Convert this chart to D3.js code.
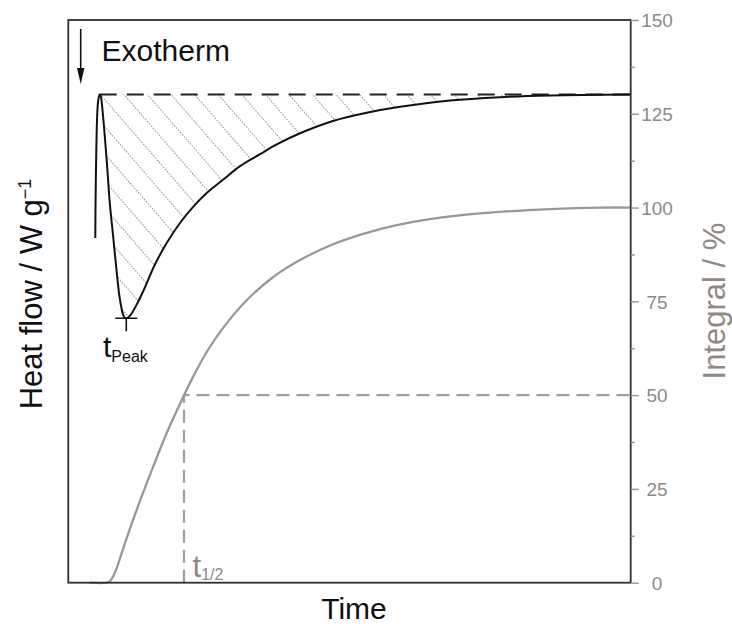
<!DOCTYPE html>
<html>
<head>
<meta charset="utf-8">
<script src="https://cdn.jsdelivr.net/npm/d3@7/dist/d3.min.js"></script>
<style>
  html, body { margin: 0; padding: 0; background: #fff; }
  svg { display: block; font-family: "Liberation Sans", Arial, Helvetica, sans-serif; }
</style>
</head>
<body>
<svg id="chart" width="732" height="626"></svg>
<script>
// ---- data ----
const hfTime = [4.80, 4.85, 4.98, 5.14, 5.33, 5.58, 5.81, 5.99, 6.47, 6.93, 7.36, 7.95, 8.53, 9.14, 9.73, 9.99, 10.31,
  10.70, 11.20, 12.39, 13.58, 15.36, 17.50, 19.86, 22.23, 24.61, 27.56, 30.53, 34.09, 37.06, 41.20, 47.07, 53.06,
  58.98, 67.87, 76.76, 85.66, 100];
const heatFlow = [-1.925, -1.415, -0.744, -0.275, -0.073, 0.0, -0.033, -0.140, -0.543, -0.986, -1.442, -1.885,
  -2.327, -2.730, -2.950, -2.990, -3.002, -2.988, -2.945, -2.784, -2.596, -2.287, -1.992, -1.724, -1.505, -1.321, -1.140,
  -0.960, -0.800, -0.670, -0.520, -0.355, -0.245, -0.165, -0.080, -0.035, -0.012, 0.0];
const intTime = [3.86, 6.88, 7.42, 8.00, 8.61, 9.50, 10.38, 12.75, 15.06, 17.50, 20.45, 22.23, 24.61, 27.56,
  31.72, 36.45, 41.20, 46.54, 52.46, 58.40, 64.32, 73.74, 85.66, 95.00, 100];
const integral = [0, 0, 0.4, 1.8, 3.9, 7.9, 11.9, 21.8, 30.8, 39.9, 49.6, 55.0, 61.5, 68.0, 75.3, 81.5, 86.0,
  89.9, 93.0, 95.3, 96.9, 98.5, 99.6, 100, 100];
const rightTicks = [0, 25, 50, 75, 100, 125, 150];
const rightMinorTicks = [12.5, 37.5, 62.5, 87.5, 112.5, 137.5];
const peakStartIndex = 5;      // baseline touch (start of hatched area)
const tPeak = 10.31, hfMin = -3.002;
const tHalf = 20.57, halfValue = 50;

// ---- layout ----
const L = 68.3, R = 630.7, T = 20, B = 582.7;
const svg = d3.select("#chart");
const x = d3.scaleLinear().domain([0, 100]).range([L, R]);
const yHF = d3.scaleLinear().domain([-6.55, 1.0]).range([B, T]);
const yInt = d3.scaleLinear().domain([0, 150]).range([B, T]);

const grey = "#9d9793";
const curve = d3.curveCatmullRom.alpha(0.5);
const hf = hfTime.map((t, i) => ({t, v: heatFlow[i]}));
const it = intTime.map((t, i) => ({t, v: integral[i]}));

// hatch pattern
const defs = svg.append("defs");
const pat = defs.append("pattern")
  .attr("id", "hatch").attr("patternUnits", "userSpaceOnUse")
  .attr("width", 17.8).attr("height", 21)
  .attr("patternTransform", `translate(${x(hfTime[peakStartIndex])},${yHF(0)}) rotate(-41)`);
pat.append("line").attr("x1", 0.5).attr("y1", 0).attr("x2", 0.5).attr("y2", 21)
  .attr("stroke", "#858585").attr("stroke-width", 1).attr("stroke-dasharray", "1.4 1.6");

const hatchData = hf.slice(peakStartIndex);
const area = d3.area().x(d => x(d.t)).y0(yHF(0)).y1(d => yHF(d.v)).curve(curve);
svg.append("path").attr("d", area(hatchData)).attr("fill", "url(#hatch)");

// baseline dashed
svg.append("line")
  .attr("x1", x(hfTime[peakStartIndex])).attr("x2", x(100))
  .attr("y1", yHF(0)).attr("y2", yHF(0))
  .attr("stroke", "#222").attr("stroke-width", 2).attr("stroke-dasharray", "17 10");

// t1/2 dashed guides
svg.append("path")
  .attr("d", `M${x(tHalf)},${yInt(0)}V${yInt(halfValue)}H${x(100)}`)
  .attr("fill", "none").attr("stroke", "#a39d99").attr("stroke-width", 2.2).attr("stroke-dasharray", "13 7");

// integral curve
const line = d3.line().x(d => x(d.t)).y(d => yInt(d.v)).curve(curve);
svg.append("path").attr("d", line(it)).attr("fill", "none").attr("stroke", grey).attr("stroke-width", 2.3);

// heat flow curve
const lineHF = d3.line().x(d => x(d.t)).y(d => yHF(d.v)).curve(curve);
svg.append("path").attr("d", lineHF(hf)).attr("fill", "none").attr("stroke", "#111").attr("stroke-width", 2);

// tPeak marker
svg.append("path")
  .attr("d", `M${x(tPeak) - 11},${yHF(hfMin)}H${x(tPeak) + 11}M${x(tPeak)},${yHF(hfMin)}v13`)
  .attr("stroke", "#111").attr("stroke-width", 1.6).attr("fill", "none");

// frame
svg.append("rect").attr("x", L).attr("y", T).attr("width", R - L).attr("height", B - T)
  .attr("fill", "none").attr("stroke", "#2e2e2e").attr("stroke-width", 1.8);

// right axis
const axR = svg.append("g").attr("transform", `translate(${R},0)`)
  .call(d3.axisRight(yInt).tickValues(rightTicks).tickSize(8).tickPadding(0));
axR.select(".domain").remove();
axR.selectAll("line").attr("stroke", grey).attr("stroke-width", 1.5);
axR.selectAll("text").attr("x", 26.3).attr("text-anchor", "middle").attr("dy", "0.35em")
  .attr("fill", "#8f8985").style("font-size", "19px").style("font-family", "'Liberation Sans', Arial, sans-serif");
const axRm = svg.append("g").attr("transform", `translate(${R},0)`)
  .call(d3.axisRight(yInt).tickValues(rightMinorTicks).tickSize(4).tickFormat(""));
axRm.select(".domain").remove();
axRm.selectAll("line").attr("stroke", grey).attr("stroke-width", 1.5);

// axis titles
svg.append("text").attr("x", 354).attr("y", 619).attr("text-anchor", "middle")
  .style("font-size", "30px").attr("fill", "#111").text("Time");

const lt = svg.append("text").attr("transform", "translate(42,294) rotate(-90)")
  .attr("text-anchor", "middle").style("font-size", "31px").attr("fill", "#111");
lt.append("tspan").text("Heat flow / W g");
lt.append("tspan").attr("dy", "-0.62em").style("font-size", "18px").text("\u22121");

svg.append("text").attr("transform", "translate(725,301) rotate(-90)")
  .attr("text-anchor", "middle").style("font-size", "31px").attr("fill", "#8f8985").text("Integral / %");

// Exotherm annotation
svg.append("line").attr("x1", 80.7).attr("x2", 80.7).attr("y1", 29).attr("y2", 72)
  .attr("stroke", "#111").attr("stroke-width", 1.6);
svg.append("path").attr("d", "M77,68L84.4,68L80.7,84Z").attr("fill", "#111");
svg.append("text").attr("x", 101.5).attr("y", 61).style("font-size", "30px").attr("fill", "#111").text("Exotherm");

// tPeak label
const tp = svg.append("text").attr("x", 103).attr("y", 357).style("font-size", "30px").attr("fill", "#111");
tp.append("tspan").text("t");
tp.append("tspan").attr("dy", 5).style("font-size", "16px").text("Peak");

// t1/2 label
const th = svg.append("text").attr("x", 192.5).attr("y", 577).style("font-size", "31px").attr("fill", "#8f8985");
th.append("tspan").text("t");
th.append("tspan").attr("dy", 3).style("font-size", "16px").text("1/2");
</script>
</body>
</html>
